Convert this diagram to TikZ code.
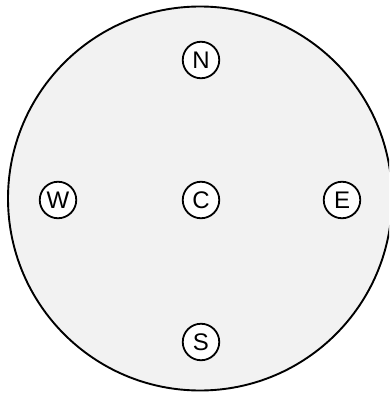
\documentclass[tikz,border=0pt]{standalone}
\usepackage{fontspec}
\setmainfont{Liberation Sans}
\definecolor{bgfill}{HTML}{F2F2F2}
\begin{document}
\begin{tikzpicture}[x=1pt,y=-1pt,
  pt/.style={circle,draw=black,line width=1.8pt,fill=white,minimum size=36.5pt,inner sep=0pt,font=\fontsize{24}{24}\selectfont}]
\useasboundingbox (0,0) rectangle (389,393);
\clip (0,0) rectangle (389,393);
\node[circle,draw=black,line width=1.9pt,fill=bgfill,minimum size=384pt,inner sep=0pt] (outer) at (200,198.5) {};
\node[pt] (N) at (201,60) {N};
\node[pt] (W) at (58,200) {W};
\node[pt] (C) at (201,200) {C};
\node[pt] (E) at (342,200) {E};
\node[pt] (S) at (201,342) {S};
\end{tikzpicture}
\end{document}
